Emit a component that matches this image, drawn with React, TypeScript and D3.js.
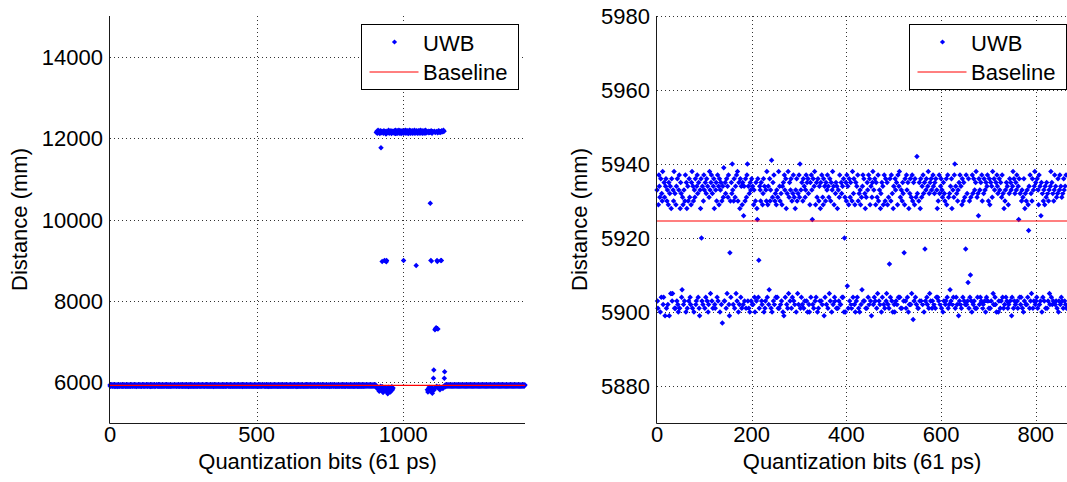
import React from "react";
import * as d3 from "d3";

// ---------- DATA ----------
// UWB distance readings (mm), one per quantization bit index, first 866 samples
const uwbHead: number[] = [
  5933,5903,5901,5929,5937,5934,5931,5900,5936,5904,5932,5930,5938,5902,5904,5935,5931,5899,5934,5936,
  5901,5930,5933,5902,5929,5935,5899,5932,5934,5905,5928,5936,5903,5905,5933,5930,5938,5901,5932,5901,
  5929,5934,5903,5936,5902,5900,5933,5937,5901,5928,5935,5932,5904,5906,5931,5929,5902,5933,5903,5930,
  5937,5900,5935,5928,5901,5934,5930,5903,5936,5931,5904,5902,5929,5935,5938,5901,5934,5930,5900,5933,
  5931,5936,5902,5903,5934,5937,5932,5904,5935,5901,5899,5933,5928,5936,5920,5903,5934,5902,5930,5937,
  5933,5901,5935,5904,5932,5936,5903,5934,5900,5902,5931,5938,5933,5905,5935,5937,5903,5932,5901,5934,
  5936,5928,5902,5901,5933,5935,5930,5904,5937,5903,5934,5929,5936,5900,5933,5935,5902,5930,5897,5934,
  5931,5939,5903,5903,5935,5932,5901,5936,5905,5934,5931,5937,5902,5899,5916,5930,5904,5935,5932,5940,
  5933,5902,5930,5936,5901,5931,5934,5905,5937,5903,5938,5930,5900,5935,5902,5928,5936,5904,5934,5901,
  5929,5935,5902,5926,5934,5903,5930,5936,5901,5931,5937,5940,5903,5934,5901,5932,5900,5935,5933,5903,
  5936,5902,5934,5902,5929,5933,5904,5900,5930,5935,5903,5928,5925,5936,5904,5914,5901,5934,5933,5930,
  5935,5903,5902,5929,5932,5936,5900,5934,5901,5903,5933,5930,5938,5904,5929,5934,5902,5906,5936,5930,
  5933,5901,5941,5900,5931,5935,5903,5937,5902,5930,5932,5904,5929,5933,5904,5931,5901,5938,5901,5934,
  5930,5902,5932,5903,5929,5934,5900,5935,5899,5937,5933,5904,5936,5928,5902,5932,5901,5938,5905,5931,
  5935,5903,5933,5936,5901,5930,5904,5932,5937,5903,5931,5902,5928,5933,5900,5936,5930,5905,5932,5902,
  5937,5931,5940,5901,5933,5904,5935,5902,5930,5936,5901,5934,5903,5931,5933,5937,5903,5935,5900,5936,
  5932,5902,5900,5929,5935,5904,5937,5933,5925,5902,5936,5901,5934,5938,5903,5929,5904,5935,5931,5900,
  5936,5901,5930,5934,5903,5928,5935,5903,5937,5902,5931,5929,5936,5899,5934,5904,5930,5935,5902,5933,
  5937,5901,5934,5931,5905,5936,5903,5930,5935,5900,5933,5938,5902,5934,5929,5904,5903,5932,5935,5901,
  5934,5928,5901,5933,5903,5931,5937,5902,5902,5935,5932,5904,5934,5904,5936,5900,5920,5931,5900,5935,
  5930,5937,5907,5934,5901,5929,5936,5903,5931,5935,5902,5901,5930,5938,5904,5932,5936,5902,5929,5900,
  5935,5903,5934,5904,5937,5930,5901,5932,5900,5933,5929,5902,5931,5906,5934,5937,5903,5936,5903,5932,
  5928,5901,5931,5901,5935,5933,5904,5937,5902,5936,5929,5903,5934,5899,5931,5935,5938,5902,5933,5904,
  5936,5903,5929,5935,5901,5931,5905,5937,5930,5903,5933,5902,5928,5932,5900,5935,5904,5934,5929,5902,
  5937,5901,5930,5936,5903,5905,5935,5929,5902,5931,5901,5913,5936,5904,5930,5937,5903,5932,5900,5928,
  5934,5902,5900,5936,5933,5903,5935,5902,5929,5937,5904,5934,5938,5904,5931,5901,5933,5901,5930,5935,
  5932,5903,5916,5929,5936,5903,5901,5937,5933,5904,5935,5900,5928,5902,5932,5936,5902,5931,5905,5937,
  5930,5898,5935,5903,5929,5936,5904,5931,5902,5942,5932,5901,5901,5930,5935,5903,5928,5936,5903,5931,
  5934,5902,5937,5932,5900,5935,5917,5903,5933,5936,5904,5902,5934,5938,5901,5932,5905,5935,5903,5936,
  5933,5901,5903,5937,5934,5902,5932,5935,5901,5936,5904,5933,5928,5904,5930,5903,5937,5932,5902,5934,
  5936,5901,5933,5931,5900,5935,5903,5932,5930,5902,5903,5936,5929,5904,5937,5901,5931,5902,5932,5906,
  5934,5903,5936,5928,5902,5933,5904,5931,5937,5940,5901,5934,5904,5932,5902,5930,5933,5899,5935,5903,
  5937,5902,5934,5901,5929,5936,5904,5930,5935,5903,5931,5902,5917,5937,5902,5932,5903,5908,5936,5901,
  5930,5904,5910,5931,5903,5900,5937,5932,5902,5936,5903,5933,5901,5935,5938,5901,5931,5904,5932,5926,
  5936,5902,5933,5904,5935,5903,5937,5930,5901,5902,5932,5936,5903,5933,5900,5935,5904,5934,5937,5903,
  5930,5901,5936,5929,5901,5935,5903,5934,5931,5938,5905,5902,5936,5933,5904,5902,5935,5900,5937,5934,
  5932,5900,5903,5936,5933,5901,5935,5903,5931,5937,5904,5932,5901,5928,5902,5930,5933,5904,5935,5903,
  5934,5901,5929,5902,5932,5936,5903,5935,5933,5899,5904,5934,5938,5901,5936,5903,5932,5902,5935,5933,
  5937,5903,5901,5934,5925,5936,5904,5932,5902,5904,5930,5933,5901,5931,5900,5936,5903,5928,5932,5902,
  5930,5902,5933,5904,5929,5922,5934,5901,5937,5903,5932,5905,5930,5936,5901,5933,5903,5934,5938,5902,
  5935,5903,5904,5936,5901,5933,5929,5937,5902,5934,5903,5926,5935,5900,5932,5904,5930,5933,5903,5929,
  5934,5901,5931,5935,5901,5932,5903,5930,5933,5905,5902,5934,5938,5904,5935,5902,5932,5903,5930,5933,
  5937,5902,5934,5903,5931,5901,5932,5936,5900,5903,5933,5937,5902,5934,5904,5931,5903,5932,5901,5936,
  5933,5903,5934,5902,5937,5901,
];

// samples 866-907
const uwbBandB: number[] = [
  5935,5931,5902,5934,5936,5930,5903,5933,5929,5935,5901,5932,5934,5936,5902,5930,5933,5931,5904,5935,
  5929,5934,5901,5936,5932,5930,5903,5935,5933,5929,5900,5934,5931,5936,5902,5933,5930,5935,5903,5931,
  5934,5929,
];

// samples 908-966 (multipath jumps)
const uwbJumpA: number[] = [
  12140,5880,12170,5850,12120,5860,12190,5820,5870,12150,5780,12160,12110,5840,12180,5900,11760,12130,5830,12170,
  8970,5890,12150,5750,12120,5860,12180,5810,8990,12140,5870,12160,5790,12100,8960,8990,12170,5850,12130,5720,
  12150,5880,12190,5830,12120,5800,12160,5860,12140,5770,12180,5840,12110,5890,12150,5820,12170,5860,12130,
];

// samples 967-1081
const uwbJumpB: number[] = [
  12150,12170,12130,12180,12120,12160,12140,12190,12110,12150,12170,12130,12160,12180,12120,12140,12170,12150,12190,12130,
  12160,12120,12180,12140,12150,12170,12110,12160,12130,12180,12150,12140,12170,12120,8990,12160,12150,12180,12130,12170,
  12140,12190,12120,12160,12150,12170,12130,12180,12140,12160,12110,12150,12170,12130,12190,12140,12160,12120,12180,12150,
  12170,12130,12160,12140,12180,12120,12150,12170,12140,12160,12130,12190,12150,12120,12170,12160,12140,8870,12180,12130,
  12150,12170,12120,12160,12140,12180,12130,12150,12170,12160,12120,12190,12140,12150,12130,12170,12160,12180,12140,12120,
  12160,12150,12170,12130,12180,12140,12160,12120,12150,12190,12170,12130,12160,12140,12150,
];

// samples 1082-1145
const uwbJumpC: number[] = [
  5820,12150,5760,12170,5850,12130,5880,12160,5790,12140,10400,5840,8990,12180,8980,5870,12120,5730,12160,5850,
  12150,6100,6300,5810,12170,5860,7290,12140,7320,5880,7340,12160,5900,8990,8970,12130,7310,5870,12180,5840,
  12150,5890,12170,5820,12140,5860,8990,12160,8990,12180,12150,5880,12170,5850,12160,12190,5900,12170,6100,6260,
  5930,5890,5935,5902,
];

// samples 1146-1415
const uwbBandC: number[] = [
  5934,5931,5903,5936,5930,5933,5901,5935,5929,5932,5902,5936,5934,5930,5904,5931,5935,5933,5900,5929,
  5936,5932,5903,5934,5931,5935,5901,5930,5933,5936,5902,5929,5934,5932,5903,5935,5930,5933,5901,5936,
  5931,5934,5902,5929,5935,5932,5904,5933,5930,5936,5900,5931,5934,5935,5902,5929,5933,5936,5903,5930,
  5935,5932,5901,5934,5929,5936,5903,5931,5933,5930,5902,5935,5934,5932,5900,5936,5929,5933,5904,5931,
  5930,5935,5902,5933,5936,5931,5901,5934,5929,5932,5903,5936,5930,5935,5901,5933,5931,5934,5902,5929,
  5936,5933,5903,5930,5934,5932,5900,5935,5931,5929,5904,5936,5933,5930,5902,5934,5935,5931,5901,5932,
  5929,5936,5903,5933,5930,5935,5902,5931,5934,5932,5901,5936,5929,5933,5903,5935,5930,5934,5900,5931,
  5933,5936,5902,5929,5935,5931,5904,5934,5930,5932,5901,5936,5933,5935,5903,5929,5931,5934,5902,5930,
  5935,5932,5901,5936,5933,5929,5903,5934,5931,5930,5902,5935,5936,5932,5900,5933,5929,5934,5903,5931,
  5930,5936,5902,5933,5934,5931,5901,5935,5929,5932,5904,5936,5930,5933,5902,5934,5935,5931,5903,5929,
  5936,5933,5901,5930,5932,5935,5903,5931,5934,5929,5902,5936,5933,5930,5900,5935,5932,5934,5901,5931,
  5929,5934,5903,5936,5930,5933,5902,5935,5931,5932,5901,5934,5936,5929,5903,5933,5930,5935,5902,5931,
  5934,5930,5901,5936,5932,5935,5903,5929,5933,5931,5902,5934,5936,5930,5904,5932,5935,5933,5901,5929,
  5936,5931,5902,5934,5930,5935,5903,5932,5933,5931,
];

const baselineValue = 5924.6;

const leftXDomain: [number, number] = [0, 1415];
const leftYDomain: [number, number] = [5000, 15000];
const leftXTicks = [0, 500, 1000];
const leftYTicks = [6000, 8000, 10000, 12000, 14000];

const rightXDomain: [number, number] = [0, 866];
const rightYDomain: [number, number] = [5870, 5980];
const rightXTicks = [0, 200, 400, 600, 800];
const rightYTicks = [5880, 5900, 5920, 5940, 5960, 5980];

const xLabelText = "Quantization bits (61 ps)";
const yLabelText = "Distance (mm)";
const legendLabels = ["UWB", "Baseline"];

// ---------- DRAWING ----------
const FONT = "'Liberation Sans', Arial, Helvetica, sans-serif";
const FS = 22;
const BLUE = "#0000ff";
const RED = "#ff0000";
const AXIS = "#1a1a1a";
const GRID = "#333333";

type PanelProps = {
  values: number[];
  xDomain: [number, number];
  yDomain: [number, number];
  xTicks: number[];
  yTicks: number[];
  left: number;
  right: number;
  top: number;
  bottom: number;
  yLabelX: number;
  legendX: number;
};

const diamond = (x: number, y: number, r: number) =>
  `M${x},${y - r}L${x + r},${y}L${x},${y + r}L${x - r},${y}Z`;

function Panel(p: PanelProps) {
  const x = d3.scaleLinear().domain(p.xDomain).range([p.left, p.right]);
  const y = d3.scaleLinear().domain(p.yDomain).range([p.bottom, p.top]);
  const r = 2.75;
  const pts = p.values
    .map((v, i) => ({ cx: x(i), cy: y(v) }))
    .filter((d) => d.cx <= p.right + 3 && d.cy >= p.top - 3 && d.cy <= p.bottom + 3);
  const pathD = pts.map((d) => diamond(d.cx, d.cy, r)).join("");
  const lx = p.legendX;
  const lw = 157;
  return (
    <g>
      {/* grid */}
      {p.yTicks.map((t) => (
        <line key={"gy" + t} x1={p.left} x2={p.right} y1={Math.round(y(t)) + 0.5} y2={Math.round(y(t)) + 0.5}
          stroke={GRID} strokeWidth={1} strokeDasharray="1,3" />
      ))}
      {p.xTicks.filter((t) => t !== 0).map((t) => (
        <line key={"gx" + t} x1={Math.round(x(t)) + 0.5} x2={Math.round(x(t)) + 0.5} y1={p.top} y2={p.bottom}
          stroke={GRID} strokeWidth={1} strokeDasharray="1,3" />
      ))}
      {/* data */}
      <path d={pathD} fill={BLUE} />
      {/* baseline */}
      <line x1={x(p.xDomain[0])} x2={x(p.xDomain[1])} y1={y(baselineValue)} y2={y(baselineValue)}
        stroke={RED} strokeWidth={1.2} />
      {/* axes */}
      <line x1={p.left - 0.5} x2={p.left - 0.5} y1={p.top} y2={p.bottom + 0.5} stroke={AXIS} strokeWidth={1} />
      <line x1={p.left - 0.5} x2={p.right} y1={p.bottom + 0.5} y2={p.bottom + 0.5} stroke={AXIS} strokeWidth={1} />
      {/* tick labels */}
      {p.yTicks.map((t) => (
        <text key={"ty" + t} x={p.left - 7} y={y(t) + 8} textAnchor="end" fontFamily={FONT} fontSize={FS} fill="#000">
          {t}
        </text>
      ))}
      {p.xTicks.map((t) => (
        <text key={"tx" + t} x={x(t)} y={442} textAnchor="middle" fontFamily={FONT} fontSize={FS} fill="#000">
          {t}
        </text>
      ))}
      {/* axis labels */}
      <text x={(p.left + p.right) / 2} y={469} textAnchor="middle" fontFamily={FONT} fontSize={FS} fill="#000">
        {xLabelText}
      </text>
      <text transform={`translate(${p.yLabelX},${(p.top + p.bottom) / 2}) rotate(-90)`} textAnchor="middle"
        fontFamily={FONT} fontSize={FS} fill="#000">
        {yLabelText}
      </text>
      {/* legend */}
      <rect x={lx + 0.5} y={24.5} width={lw} height={65} fill="#fff" stroke="#000" strokeWidth={1} />
      <path d={diamond(lx + 33.5, 42, 2.6)} fill={BLUE} />
      <text x={lx + 62} y={50.5} fontFamily={FONT} fontSize={FS} fill="#000">{legendLabels[0]}</text>
      <line x1={lx + 8.5} x2={lx + 57.5} y1={72} y2={72} stroke={RED} strokeWidth={1} />
      <text x={lx + 62} y={80} fontFamily={FONT} fontSize={FS} fill="#000">{legendLabels[1]}</text>
    </g>
  );
}

export default function App() {
  const leftValues = [...uwbHead, ...uwbBandB, ...uwbJumpA, ...uwbJumpB, ...uwbJumpC, ...uwbBandC];
  return (
    <div style={{ position: "absolute", left: 0, top: 0 }}>
      <svg width={1067} height={482} style={{ display: "block", background: "#fff" }}>
        <Panel values={leftValues} xDomain={leftXDomain} yDomain={leftYDomain} xTicks={leftXTicks}
          yTicks={leftYTicks} left={110} right={525} top={16} bottom={423} yLabelX={27} legendX={361} />
        <Panel values={uwbHead} xDomain={rightXDomain} yDomain={rightYDomain} xTicks={rightXTicks}
          yTicks={rightYTicks} left={657} right={1067} top={16} bottom={423} yLabelX={587} legendX={909} />
      </svg>
    </div>
  );
}
